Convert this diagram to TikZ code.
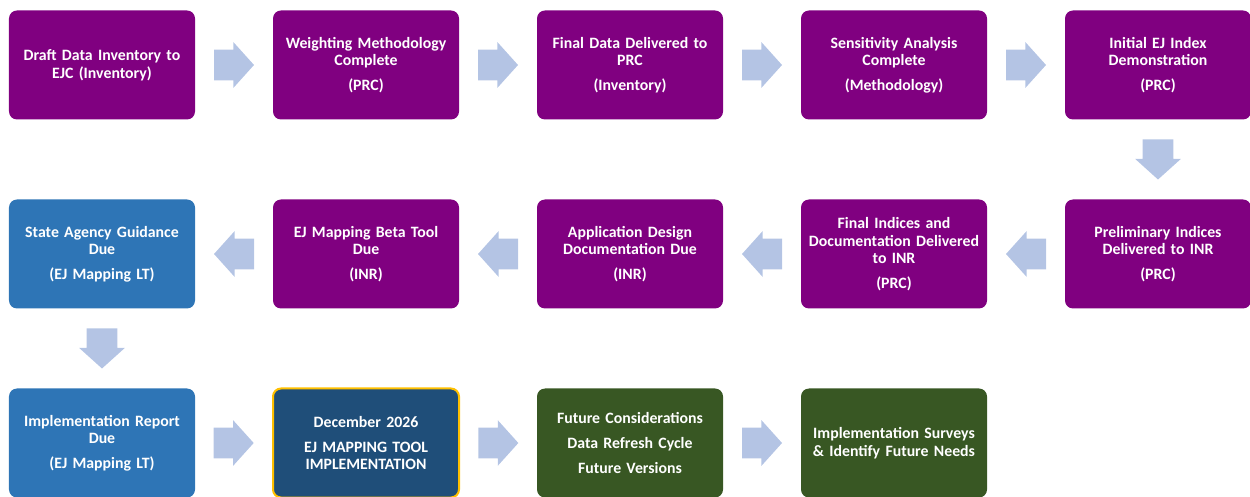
\documentclass[tikz,border=0pt]{standalone}
\usepackage{fontspec}
\setmainfont{Carlito}
\usepackage{xcolor}
\usepackage{tikz}
\usetikzlibrary{arrows.meta,positioning,shapes.arrows,calc}

\definecolor{phasepurple}{HTML}{800080}
\definecolor{phaseblue}{HTML}{2E75B6}
\definecolor{phasenavy}{HTML}{1F4E79}
\definecolor{phasegreen}{HTML}{385723}
\definecolor{phasegold}{HTML}{FFC000}
\definecolor{arrowblue}{HTML}{B4C4E4}

\begin{document}
\begin{tikzpicture}[node distance=5.28cm, auto]
        % Define styles
        \tikzset{
            phase/.style={rectangle, rounded corners=0.16cm, fill=phasepurple, text=white, text width=3.5cm, text centered, inner xsep=0.11cm, minimum height=2.18cm, font=\fontsize{9}{10}\selectfont\bfseries},
            agency/.style={phase, fill=phaseblue},
            milestone/.style={phase, fill=phasenavy, draw=phasegold, line width=0.04cm},
            future/.style={phase, fill=phasegreen},
            blockarrow/.style={single arrow, fill=arrowblue, draw=none, single arrow head extend=0.15cm, single arrow tip angle=96, minimum height=0.8cm, outer sep=0pt, anchor=tail},
            rightarrow/.style={blockarrow, inner xsep=0pt, inner ysep=0.3cm, xshift=-0.4cm},
            leftarrow/.style={blockarrow, shape border rotate=180, inner xsep=0pt, inner ysep=0.3cm, xshift=0.4cm},
            downarrow/.style={blockarrow, shape border rotate=270, inner xsep=0.3cm, inner ysep=0pt, yshift=0.4cm}
        }
        \useasboundingbox (0,0) rectangle (25,-9.94);

        % Create nodes
        \node [phase] (draft) at (2.04,-1.3) {Draft Data Inventory to\\EJC (Inventory)};
        \node [phase, right of=draft] (weighting) {Weighting Methodology\\Complete\\[4pt](PRC)};
        \node [phase, right of=weighting] (finaldata) {Final Data Delivered to\\PRC\\[4pt](Inventory)};
        \node [phase, right of=finaldata] (sensitivity) {Sensitivity Analysis\\Complete\\[4pt](Methodology)};
        \node [phase, right of=sensitivity] (initial) {Initial EJ Index\\Demonstration\\[4pt](PRC)};

        \node [phase, below of=initial, node distance=3.78cm] (prelim) {Preliminary Indices\\Delivered to INR\\[4pt](PRC)};
        \node [phase, left of=prelim] (finalidx) {Final Indices and\\Documentation Delivered\\to INR\\[4pt](PRC)};
        \node [phase, left of=finalidx] (appdesign) {Application Design\\Documentation Due\\[4pt](INR)};
        \node [phase, left of=appdesign] (beta) {EJ Mapping Beta Tool\\Due\\[4pt](INR)};
        \node [agency, left of=beta] (guidance) {State Agency Guidance\\Due\\[4pt](EJ Mapping LT)};

        \node [agency, below of=guidance, node distance=3.78cm] (report) {Implementation Report\\Due\\[4pt](EJ Mapping LT)};
        \node [milestone, right of=report] (december) {December 2026\\[4pt]EJ MAPPING TOOL\\IMPLEMENTATION};
        \node [future, right of=december] (future) {Future Considerations\\[4pt]Data Refresh Cycle\\[4pt]Future Versions};
        \node [future, right of=future] (surveys) {Implementation Surveys\\\& Identify Future Needs};

        % Create arrows
        \node [rightarrow] (a1) at ($(draft.east)!0.5!(weighting.west)$) {};
        \node [rightarrow] (a2) at ($(weighting.east)!0.5!(finaldata.west)$) {};
        \node [rightarrow] (a3) at ($(finaldata.east)!0.5!(sensitivity.west)$) {};
        \node [rightarrow] (a4) at ($(sensitivity.east)!0.5!(initial.west)$) {};
        \node [downarrow] (a5) at ($(initial.south)!0.5!(prelim.north)$) {};
        \node [leftarrow] (a6) at ($(prelim.west)!0.5!(finalidx.east)$) {};
        \node [leftarrow] (a7) at ($(finalidx.west)!0.5!(appdesign.east)$) {};
        \node [leftarrow] (a8) at ($(appdesign.west)!0.5!(beta.east)$) {};
        \node [leftarrow] (a9) at ($(beta.west)!0.5!(guidance.east)$) {};
        \node [downarrow] (a10) at ($(guidance.south)!0.5!(report.north)$) {};
        \node [rightarrow] (a11) at ($(report.east)!0.5!(december.west)$) {};
        \node [rightarrow] (a12) at ($(december.east)!0.5!(future.west)$) {};
        \node [rightarrow] (a13) at ($(future.east)!0.5!(surveys.west)$) {};
    \end{tikzpicture}
\end{document}
